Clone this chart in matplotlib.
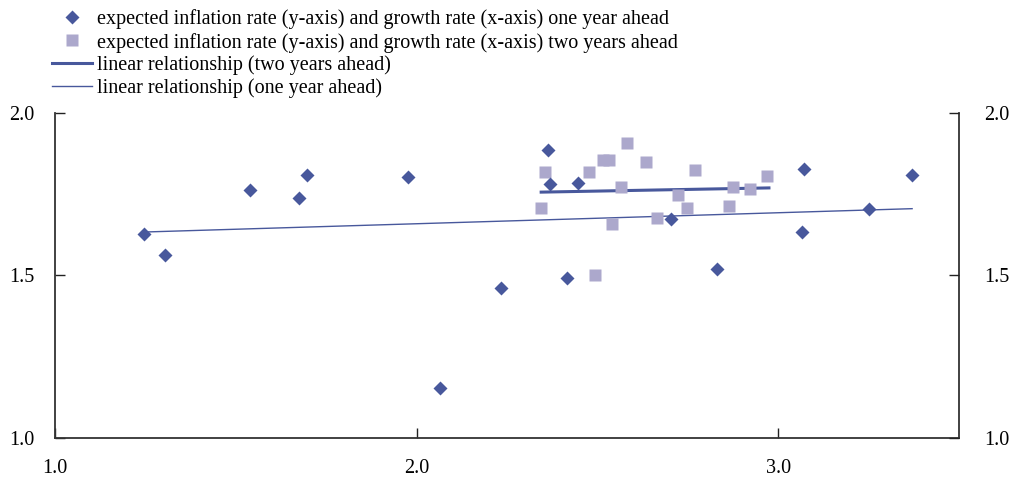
import matplotlib
matplotlib.use("Agg")
import matplotlib.pyplot as plt
from matplotlib.lines import Line2D
from matplotlib.ticker import FormatStrFormatter

# growth rate (x) and expected inflation (y), one year ahead
one_x = [1.246, 1.304, 1.538, 1.673, 1.696, 1.977, 2.065, 2.234, 2.363, 2.368,
         2.415, 2.445, 2.703, 2.831, 3.065, 3.071, 3.252, 3.369]
one_y = [1.629, 1.564, 1.765, 1.738, 1.809, 1.803, 1.152, 1.461, 1.886, 1.783,
         1.493, 1.784, 1.674, 1.519, 1.635, 1.828, 1.706, 1.809]

# two years ahead
two_x = [2.343, 2.355, 2.477, 2.494, 2.514, 2.532, 2.541, 2.565, 2.582, 2.635,
         2.665, 2.723, 2.746, 2.770, 2.864, 2.875, 2.922, 2.969]
two_y = [1.709, 1.819, 1.819, 1.502, 1.857, 1.857, 1.658, 1.774, 1.908, 1.851,
         1.677, 1.747, 1.709, 1.825, 1.715, 1.774, 1.768, 1.807]

# linear relationships (end points)
fit_one_x = [1.246, 3.370]
fit_one_y = [1.634, 1.706]
fit_two_x = [2.344, 2.974]
fit_two_y = [1.757, 1.770]

labels = ["expected inflation rate (y-axis) and growth rate (x-axis) one year ahead",
          "expected inflation rate (y-axis) and growth rate (x-axis) two years ahead",
          "linear relationship (two years ahead)",
          "linear relationship (one year ahead)"]

navy = "#48589c"
lilac = "#aca8cc"

plt.rcParams["font.family"] = ["Liberation Serif", "DejaVu Serif"]
plt.rcParams["font.size"] = 14.5

fig = plt.figure(figsize=(10.16, 4.84), dpi=100)
ax = fig.add_axes([0.0544, 0.0957, 0.8896, 0.6702])

ax.plot(fit_one_x, fit_one_y, color=navy, lw=1.0, zorder=2)
ax.plot(fit_two_x, fit_two_y, color=navy, lw=2.2, zorder=2)
ax.plot(two_x, two_y, ls="none", marker="s", ms=8.7, color=lilac, mec="none", zorder=3)
ax.plot(one_x, one_y, ls="none", marker="D", ms=7.4, color=navy, mec="none", zorder=4)

ax.set_xlim(1.0, 3.5)
ax.set_ylim(1.0, 2.0)
ax.set_xticks([1.0, 2.0, 3.0])
ax.set_yticks([1.0, 1.5, 2.0])
ax.xaxis.set_major_formatter(FormatStrFormatter("%.1f"))
ax.yaxis.set_major_formatter(FormatStrFormatter("%.1f"))
ax.tick_params(axis="x", direction="in", length=7, width=1, pad=15, colors="#222222",
               labelcolor="black")
ax.tick_params(axis="y", direction="in", length=7, width=1, pad=15, colors="#222222",
               labelcolor="black")
for sp in ["left", "right", "bottom"]:
    ax.spines[sp].set_color("#333333")
    ax.spines[sp].set_linewidth(1.3)
ax.spines["top"].set_visible(False)

# right-hand axis with the same scale
ax2 = ax.twinx()
ax2.set_ylim(1.0, 2.0)
ax2.set_yticks([1.0, 1.5, 2.0])
ax2.yaxis.set_major_formatter(FormatStrFormatter("%.1f"))
ax2.tick_params(axis="y", direction="in", length=7, width=1, pad=18, colors="#222222",
                labelcolor="black")
for sp in ax2.spines.values():
    sp.set_visible(False)

handles = [Line2D([], [], ls="none", marker="D", ms=7.4, color=navy, mec="none"),
           Line2D([], [], ls="none", marker="s", ms=8.7, color=lilac, mec="none"),
           Line2D([], [], color=navy, lw=2.2),
           Line2D([], [], color=navy, lw=1.0)]
fig.legend(handles, labels, loc="upper left", bbox_to_anchor=(0.043, 0.997), frameon=False,
           handlelength=2.0, handletextpad=0.25, labelspacing=0.16, borderaxespad=0,
           fontsize=14.5)

fig.savefig("out.png", dpi=100)
